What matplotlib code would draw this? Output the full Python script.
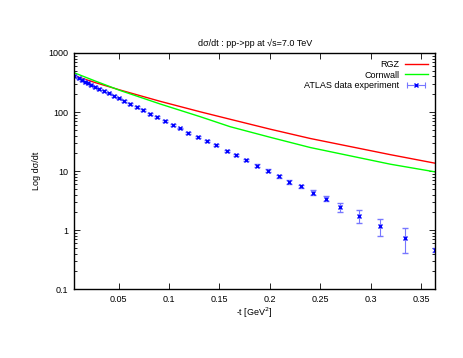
import matplotlib
matplotlib.use('Agg')
import matplotlib.pyplot as plt
from matplotlib.lines import Line2D
from matplotlib.legend_handler import HandlerLine2D, HandlerTuple
from matplotlib.ticker import FixedLocator, LogLocator, NullFormatter, FuncFormatter

# ATLAS data points
t_data = [0.0059, 0.0106, 0.0135, 0.0163, 0.0197, 0.0227, 0.0262, 0.0307, 0.0351, 0.0401,
          0.0450, 0.0500, 0.0558, 0.0617, 0.0679, 0.0743, 0.0813, 0.0884, 0.0958, 0.1036,
          0.1112, 0.1193, 0.1289, 0.1378, 0.1470, 0.1570, 0.1669, 0.1768, 0.1874, 0.1980,
          0.2089, 0.2194, 0.2311, 0.2427, 0.2556, 0.2694, 0.2879, 0.3094, 0.3339, 0.3640]
dsdt_data = [413, 370, 349, 329, 305, 282, 266, 246, 227, 208,
             187, 170, 154, 137, 121, 107, 92.7, 81.6, 70.6, 60.4,
             52.7, 44.8, 38.3, 32.4, 27.4, 22.2, 18.5, 15.3, 12.4, 10.2,
             8.18, 6.55, 5.54, 4.32, 3.42, 2.44, 1.74, 1.19, 0.747, 0.468]
dsdt_err = [12, 11, 10, 10, 9, 8, 8, 7, 7, 6,
            6, 5, 5, 4, 4, 3.5, 3, 2.6, 2.3, 2.0,
            1.8, 1.5, 1.3, 1.2, 1.0, 0.9, 0.8, 0.7, 0.6, 0.5,
            0.45, 0.4, 0.35, 0.4, 0.35, 0.4, 0.43, 0.38, 0.34, 0.04]

# model curves
t_curve = [0.0058, 0.0267, 0.0515, 0.0912, 0.1309, 0.1606, 0.2003, 0.2400, 0.3194, 0.3640]
rgz = [413, 316, 236, 152, 101, 75.5, 51.3, 35.7, 19.0, 13.6]
cornwall = [464, 336, 232, 137, 83.5, 56.5, 37.4, 25.1, 13.1, 9.7]

xticks = [0.05, 0.1, 0.15, 0.2, 0.25, 0.3, 0.35]
yticks = [0.1, 1, 10, 100, 1000]

plt.rcParams['font.family'] = ['Liberation Sans', 'DejaVu Sans']
plt.rcParams['font.size'] = 6.5

fig = plt.figure(figsize=(4.63, 3.58), dpi=100)
ax = fig.add_axes([0.1598, 0.192, 0.7804, 0.660])

l1, = ax.plot(t_curve, rgz, color='#ff0000', lw=1.0)
l2, = ax.plot(t_curve, cornwall, color='#00ff00', lw=1.0)
ax.errorbar(t_data, dsdt_data, yerr=dsdt_err, fmt='x', color='#0000ff', ms=3, mew=1.0,
            ecolor='#7777ff', elinewidth=0.8, capsize=2, capthick=0.8)

ax.set_yscale('log')
ax.set_xlim(0.0058, 0.364)
ax.set_ylim(0.1, 1000)
ax.xaxis.set_major_locator(FixedLocator(xticks))
ax.yaxis.set_major_locator(FixedLocator(yticks))
ax.yaxis.set_minor_locator(LogLocator(base=10, subs=range(2, 10)))
ax.yaxis.set_minor_formatter(NullFormatter())
ax.xaxis.set_major_formatter(FuncFormatter(lambda v, p: '%g' % v))
ax.yaxis.set_major_formatter(FuncFormatter(lambda v, p: '%g' % v))
ax.tick_params(which='both', direction='in', top=True, right=True, width=0.6)
ax.tick_params(which='major', length=4, pad=4)
ax.tick_params(which='minor', length=2)
for s in ax.spines.values():
    s.set_linewidth(1.0)

ax.set_title('d\u03c3/dt : pp->pp at \u221as=7.0 TeV', fontsize=6.5, pad=5)
ax.set_xlabel('-t [GeV$^2$]', fontsize=6.5, labelpad=1)
ax.set_ylabel('Log d\u03c3/dt', fontsize=6.5, labelpad=5)

# gnuplot style key entry for the data: bar with end caps and a cross in the middle
caps = Line2D([], [], color='#7777ff', lw=0.8, marker='|', ms=4, mew=0.8)
cross = Line2D([], [], color='#0000ff', lw=0, marker='x', ms=3, mew=1.0)
ax.legend([l1, l2, (caps, cross)], ['RGZ', 'Cornwall', 'ATLAS data experiment'],
          handler_map={caps: HandlerLine2D(numpoints=2), cross: HandlerLine2D(numpoints=1),
                       tuple: HandlerTuple(ndivide=1, pad=0)},
          loc='upper right', markerfirst=False, frameon=False, fontsize=6.5,
          handlelength=2.6, handletextpad=0.6, labelspacing=0.15,
          borderaxespad=0.5, borderpad=0.3)

fig.savefig('out.png', dpi=100)
